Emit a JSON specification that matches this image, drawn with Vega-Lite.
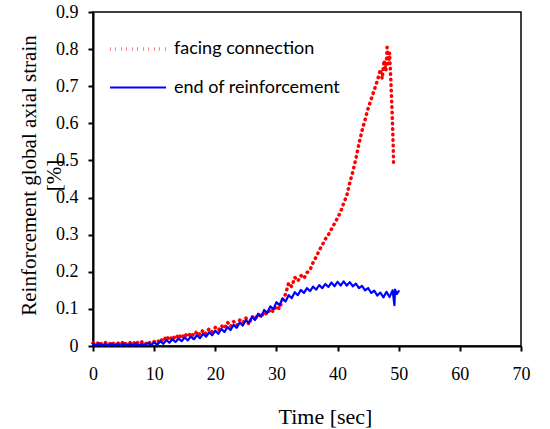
{
 "$schema": "https://vega.github.io/schema/vega-lite/v6.json",
 "width": 428,
 "height": 334,
 "autosize": "none",
 "padding": {"left": 93, "top": 12, "right": 29, "bottom": 83},
 "background": "white",
 "config": {
  "font": "Liberation Serif",
  "view": {"stroke": "black", "strokeWidth": 1.5},
  "axis": {
   "domainColor": "black", "domainWidth": 2, "tickColor": "black", "tickWidth": 2, "tickSize": 5,
   "labelFont": "Liberation Serif", "labelFontSize": 18, "labelColor": "black",
   "titleFont": "Liberation Serif", "titleFontWeight": "normal", "titleColor": "black", "grid": false
  }
 },
 "datasets": {
  "d": [
   {"t":0,"v":0.008,"s":"facing connection"},{"t":0.5,"v":0.003,"s":"facing connection"},{"t":1,"v":0.012,"s":"facing connection"},{"t":1.5,"v":0.004,"s":"facing connection"},{"t":2,"v":0.010,"s":"facing connection"},{"t":2.5,"v":0.002,"s":"facing connection"},{"t":3,"v":0.011,"s":"facing connection"},{"t":3.5,"v":0.005,"s":"facing connection"},{"t":4,"v":0.009,"s":"facing connection"},{"t":4.5,"v":0.003,"s":"facing connection"},{"t":5,"v":0.013,"s":"facing connection"},{"t":5.5,"v":0.004,"s":"facing connection"},{"t":6,"v":0.010,"s":"facing connection"},{"t":6.5,"v":0.003,"s":"facing connection"},{"t":7,"v":0.014,"s":"facing connection"},{"t":7.5,"v":0.005,"s":"facing connection"},{"t":8,"v":0.011,"s":"facing connection"},{"t":8.5,"v":0.004,"s":"facing connection"},{"t":9,"v":0.013,"s":"facing connection"},{"t":9.5,"v":0.006,"s":"facing connection"},{"t":10,"v":0.012,"s":"facing connection"},{"t":10.5,"v":0.008,"s":"facing connection"},{"t":11,"v":0.020,"s":"facing connection"},{"t":11.5,"v":0.012,"s":"facing connection"},{"t":12,"v":0.027,"s":"facing connection"},{"t":12.5,"v":0.015,"s":"facing connection"},{"t":13,"v":0.028,"s":"facing connection"},{"t":13.5,"v":0.018,"s":"facing connection"},{"t":14,"v":0.032,"s":"facing connection"},{"t":14.5,"v":0.020,"s":"facing connection"},{"t":15,"v":0.034,"s":"facing connection"},{"t":15.5,"v":0.024,"s":"facing connection"},{"t":16,"v":0.036,"s":"facing connection"},{"t":16.5,"v":0.027,"s":"facing connection"},{"t":17,"v":0.040,"s":"facing connection"},{"t":17.5,"v":0.030,"s":"facing connection"},{"t":18,"v":0.043,"s":"facing connection"},{"t":18.5,"v":0.033,"s":"facing connection"},{"t":19,"v":0.047,"s":"facing connection"},{"t":19.5,"v":0.038,"s":"facing connection"},{"t":20,"v":0.050,"s":"facing connection"},{"t":20.5,"v":0.042,"s":"facing connection"},{"t":21,"v":0.055,"s":"facing connection"},{"t":21.5,"v":0.047,"s":"facing connection"},{"t":22,"v":0.064,"s":"facing connection"},{"t":22.5,"v":0.052,"s":"facing connection"},{"t":23,"v":0.066,"s":"facing connection"},{"t":23.5,"v":0.055,"s":"facing connection"},{"t":24,"v":0.070,"s":"facing connection"},{"t":24.5,"v":0.062,"s":"facing connection"},{"t":25,"v":0.076,"s":"facing connection"},{"t":25.5,"v":0.058,"s":"facing connection"},{"t":26,"v":0.080,"s":"facing connection"},{"t":26.5,"v":0.072,"s":"facing connection"},{"t":27,"v":0.086,"s":"facing connection"},{"t":27.5,"v":0.078,"s":"facing connection"},{"t":28,"v":0.092,"s":"facing connection"},{"t":28.5,"v":0.085,"s":"facing connection"},{"t":29,"v":0.100,"s":"facing connection"},{"t":29.5,"v":0.092,"s":"facing connection"},{"t":30,"v":0.108,"s":"facing connection"},{"t":30.5,"v":0.100,"s":"facing connection"},{"t":31,"v":0.125,"s":"facing connection"},{"t":31.5,"v":0.140,"s":"facing connection"},{"t":32,"v":0.170,"s":"facing connection"},{"t":32.5,"v":0.160,"s":"facing connection"},{"t":33,"v":0.185,"s":"facing connection"},{"t":33.5,"v":0.175,"s":"facing connection"},{"t":34,"v":0.190,"s":"facing connection"},{"t":34.5,"v":0.182,"s":"facing connection"},{"t":35,"v":0.198,"s":"facing connection"},{"t":35.5,"v":0.205,"s":"facing connection"},{"t":36,"v":0.225,"s":"facing connection"},{"t":36.5,"v":0.240,"s":"facing connection"},{"t":37,"v":0.258,"s":"facing connection"},{"t":37.5,"v":0.272,"s":"facing connection"},{"t":38,"v":0.288,"s":"facing connection"},{"t":38.5,"v":0.300,"s":"facing connection"},{"t":39,"v":0.315,"s":"facing connection"},{"t":39.5,"v":0.330,"s":"facing connection"},{"t":40,"v":0.345,"s":"facing connection"},{"t":40.5,"v":0.362,"s":"facing connection"},{"t":41,"v":0.385,"s":"facing connection"},{"t":41.5,"v":0.405,"s":"facing connection"},{"t":42,"v":0.440,"s":"facing connection"},{"t":42.5,"v":0.470,"s":"facing connection"},{"t":43,"v":0.505,"s":"facing connection"},{"t":43.5,"v":0.545,"s":"facing connection"},{"t":44,"v":0.580,"s":"facing connection"},{"t":44.5,"v":0.610,"s":"facing connection"},{"t":45,"v":0.640,"s":"facing connection"},{"t":45.5,"v":0.665,"s":"facing connection"},{"t":46,"v":0.690,"s":"facing connection"},{"t":46.5,"v":0.715,"s":"facing connection"},{"t":47,"v":0.745,"s":"facing connection"},{"t":47.3,"v":0.720,"s":"facing connection"},{"t":47.6,"v":0.770,"s":"facing connection"},{"t":47.9,"v":0.740,"s":"facing connection"},{"t":48.1,"v":0.805,"s":"facing connection"},{"t":48.3,"v":0.760,"s":"facing connection"},{"t":48.5,"v":0.790,"s":"facing connection"},{"t":48.7,"v":0.720,"s":"facing connection"},{"t":48.8,"v":0.680,"s":"facing connection"},{"t":48.9,"v":0.640,"s":"facing connection"},{"t":49.0,"v":0.590,"s":"facing connection"},{"t":49.1,"v":0.540,"s":"facing connection"},{"t":49.15,"v":0.495,"s":"facing connection"},
   {"t":0,"v":0.006,"s":"end of reinforcement"},{"t":0.5,"v":0.001,"s":"end of reinforcement"},{"t":1,"v":0.007,"s":"end of reinforcement"},{"t":1.5,"v":0.001,"s":"end of reinforcement"},{"t":2,"v":0.006,"s":"end of reinforcement"},{"t":2.5,"v":0.000,"s":"end of reinforcement"},{"t":3,"v":0.007,"s":"end of reinforcement"},{"t":3.5,"v":0.001,"s":"end of reinforcement"},{"t":4,"v":0.006,"s":"end of reinforcement"},{"t":4.5,"v":0.001,"s":"end of reinforcement"},{"t":5,"v":0.007,"s":"end of reinforcement"},{"t":5.5,"v":0.001,"s":"end of reinforcement"},{"t":6,"v":0.006,"s":"end of reinforcement"},{"t":6.5,"v":0.001,"s":"end of reinforcement"},{"t":7,"v":0.007,"s":"end of reinforcement"},{"t":7.5,"v":0.001,"s":"end of reinforcement"},{"t":8,"v":0.006,"s":"end of reinforcement"},{"t":8.5,"v":0.002,"s":"end of reinforcement"},{"t":9,"v":0.008,"s":"end of reinforcement"},{"t":9.5,"v":0.002,"s":"end of reinforcement"},{"t":10,"v":0.010,"s":"end of reinforcement"},{"t":10.5,"v":0.003,"s":"end of reinforcement"},{"t":11,"v":0.013,"s":"end of reinforcement"},{"t":11.5,"v":0.006,"s":"end of reinforcement"},{"t":12,"v":0.016,"s":"end of reinforcement"},{"t":12.5,"v":0.009,"s":"end of reinforcement"},{"t":13,"v":0.018,"s":"end of reinforcement"},{"t":13.5,"v":0.011,"s":"end of reinforcement"},{"t":14,"v":0.020,"s":"end of reinforcement"},{"t":14.5,"v":0.013,"s":"end of reinforcement"},{"t":15,"v":0.023,"s":"end of reinforcement"},{"t":15.5,"v":0.015,"s":"end of reinforcement"},{"t":16,"v":0.026,"s":"end of reinforcement"},{"t":16.5,"v":0.018,"s":"end of reinforcement"},{"t":17,"v":0.029,"s":"end of reinforcement"},{"t":17.5,"v":0.021,"s":"end of reinforcement"},{"t":18,"v":0.033,"s":"end of reinforcement"},{"t":18.5,"v":0.025,"s":"end of reinforcement"},{"t":19,"v":0.037,"s":"end of reinforcement"},{"t":19.5,"v":0.029,"s":"end of reinforcement"},{"t":20,"v":0.041,"s":"end of reinforcement"},{"t":20.5,"v":0.033,"s":"end of reinforcement"},{"t":21,"v":0.046,"s":"end of reinforcement"},{"t":21.5,"v":0.038,"s":"end of reinforcement"},{"t":22,"v":0.051,"s":"end of reinforcement"},{"t":22.5,"v":0.043,"s":"end of reinforcement"},{"t":23,"v":0.057,"s":"end of reinforcement"},{"t":23.5,"v":0.049,"s":"end of reinforcement"},{"t":24,"v":0.063,"s":"end of reinforcement"},{"t":24.5,"v":0.055,"s":"end of reinforcement"},{"t":25,"v":0.070,"s":"end of reinforcement"},{"t":25.5,"v":0.062,"s":"end of reinforcement"},{"t":26,"v":0.078,"s":"end of reinforcement"},{"t":26.5,"v":0.070,"s":"end of reinforcement"},{"t":27,"v":0.087,"s":"end of reinforcement"},{"t":27.5,"v":0.079,"s":"end of reinforcement"},{"t":28,"v":0.097,"s":"end of reinforcement"},{"t":28.5,"v":0.089,"s":"end of reinforcement"},{"t":29,"v":0.107,"s":"end of reinforcement"},{"t":29.5,"v":0.099,"s":"end of reinforcement"},{"t":30,"v":0.118,"s":"end of reinforcement"},{"t":30.5,"v":0.110,"s":"end of reinforcement"},{"t":31,"v":0.128,"s":"end of reinforcement"},{"t":31.5,"v":0.120,"s":"end of reinforcement"},{"t":32,"v":0.137,"s":"end of reinforcement"},{"t":32.5,"v":0.129,"s":"end of reinforcement"},{"t":33,"v":0.145,"s":"end of reinforcement"},{"t":33.5,"v":0.137,"s":"end of reinforcement"},{"t":34,"v":0.151,"s":"end of reinforcement"},{"t":34.5,"v":0.143,"s":"end of reinforcement"},{"t":35,"v":0.156,"s":"end of reinforcement"},{"t":35.5,"v":0.148,"s":"end of reinforcement"},{"t":36,"v":0.160,"s":"end of reinforcement"},{"t":36.5,"v":0.152,"s":"end of reinforcement"},{"t":37,"v":0.164,"s":"end of reinforcement"},{"t":37.5,"v":0.156,"s":"end of reinforcement"},{"t":38,"v":0.167,"s":"end of reinforcement"},{"t":38.5,"v":0.159,"s":"end of reinforcement"},{"t":39,"v":0.171,"s":"end of reinforcement"},{"t":39.5,"v":0.161,"s":"end of reinforcement"},{"t":40,"v":0.173,"s":"end of reinforcement"},{"t":40.5,"v":0.163,"s":"end of reinforcement"},{"t":41,"v":0.174,"s":"end of reinforcement"},{"t":41.5,"v":0.163,"s":"end of reinforcement"},{"t":42,"v":0.172,"s":"end of reinforcement"},{"t":42.5,"v":0.161,"s":"end of reinforcement"},{"t":43,"v":0.168,"s":"end of reinforcement"},{"t":43.5,"v":0.156,"s":"end of reinforcement"},{"t":44,"v":0.162,"s":"end of reinforcement"},{"t":44.5,"v":0.150,"s":"end of reinforcement"},{"t":45,"v":0.156,"s":"end of reinforcement"},{"t":45.5,"v":0.143,"s":"end of reinforcement"},{"t":46,"v":0.149,"s":"end of reinforcement"},{"t":46.5,"v":0.136,"s":"end of reinforcement"},{"t":47,"v":0.144,"s":"end of reinforcement"},{"t":47.5,"v":0.131,"s":"end of reinforcement"},{"t":48,"v":0.146,"s":"end of reinforcement"},{"t":48.5,"v":0.132,"s":"end of reinforcement"},{"t":49,"v":0.150,"s":"end of reinforcement"},{"t":49.3,"v":0.110,"s":"end of reinforcement"},{"t":49.4,"v":0.152,"s":"end of reinforcement"},{"t":49.7,"v":0.140,"s":"end of reinforcement"},{"t":50,"v":0.148,"s":"end of reinforcement"}
  ]
 },
 "data": {"name": "d"},
 "mark": {"type": "line", "strokeCap": "round", "strokeJoin": "round"},
 "encoding": {
  "x": {"field": "t", "type": "quantitative", "scale": {"domain": [0, 70], "nice": false, "zero": false},
   "axis": {"values": [0, 10, 20, 30, 40, 50, 60, 70], "title": "Time [sec]", "titleFont": "Liberation Serif", "titleFontSize": 22, "titleX": 232, "titleY": 77, "titleBaseline": "alphabetic", "labelFont": "Liberation Serif", "labelFontSize": 18, "labelColor": "black", "labelPadding": 14, "labelFlush": false}},
  "y": {"field": "v", "type": "quantitative", "scale": {"domain": [0, 0.9], "nice": false},
   "axis": {"values": [0, 0.1, 0.2, 0.3, 0.4, 0.5, 0.6, 0.7, 0.8, 0.9], "labelExpr": "datum.value == 0 ? '0' : format(datum.value, '.1f')", "title": ["Reinforcement global axial strain", "[%]"], "titleFont": "Liberation Serif", "titleFontSize": 21, "titleLineHeight": 25, "titleX": -75, "titleY": 163, "titleAngle": 270, "titleAlign": "center", "titleBaseline": "top", "labelFont": "Liberation Serif", "labelFontSize": 18, "labelColor": "black", "labelPadding": 10, "labelFlush": false}},
  "color": {"field": "s", "type": "nominal", "sort": ["facing connection", "end of reinforcement"],
   "scale": {"domain": ["facing connection", "end of reinforcement"], "range": ["#ff0000", "#0000ff"]},
   "legend": {"orient": "none", "legendX": 15, "legendY": 7, "title": null, "symbolType": "stroke", "symbolSize": 3136, "labelFont": "Lato", "labelFontSize": 18, "labelColor": "black", "labelOffset": 6, "labelLimit": 400, "rowPadding": -17}},
  "strokeDash": {"field": "s", "type": "nominal",
   "scale": {"domain": ["facing connection", "end of reinforcement"], "range": [[0.5, 5], [1, 0]]}},
  "strokeWidth": {"field": "s", "type": "nominal",
   "scale": {"domain": ["facing connection", "end of reinforcement"], "range": [3.5, 2.2]}}
 }
}
